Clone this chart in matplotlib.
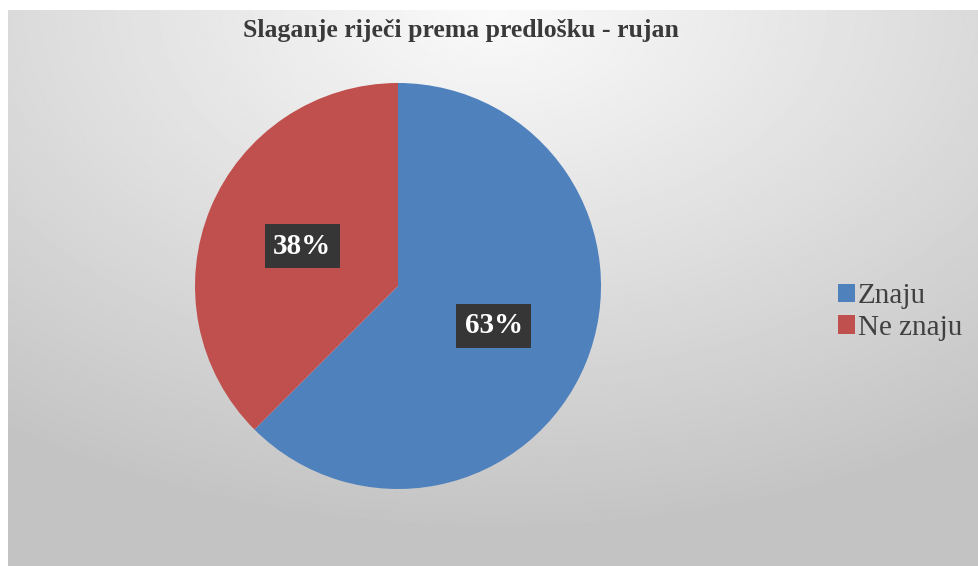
# Pie chart: Slaganje riječi prema predlošku - rujan
import numpy as np
from matplotlib import pyplot as plt
from matplotlib.patches import Patch

labels = ['Znaju', 'Ne znaju']
values = [62.5, 37.5]
colors = ['#4F81BD', '#C0504D']
title = 'Slaganje riječi prema predlošku - rujan'

plt.rcParams['font.family'] = ['Liberation Serif', 'DejaVu Serif']

W, H = 979, 566
fig = plt.figure(figsize=(W / 100, H / 100), dpi=100)
fig.patch.set_facecolor('white')

# gray gradient background of the chart area
bg = fig.add_axes([8 / W, 0, (W - 8) / W, (H - 10) / H])
yy, xx = np.mgrid[0:1:300j, 0:1:500j]
d = np.sqrt(((xx - 0.5) * 1.1) ** 2 + (yy * 1.0) ** 2)
shade = np.clip(250 - 58 * d, 195, 250) / 255
bg.imshow(shade, cmap='gray', vmin=0, vmax=1, aspect='auto',
          extent=[0, 1, 1, 0], interpolation='bilinear')
bg.set_axis_off()

# pie
cx, cy, r = 398, H - 286, 203
ax = fig.add_axes([(cx - r) / W, (cy - r) / H, 2 * r / W, 2 * r / H])
wedges, texts, autotexts = ax.pie(
    values, colors=colors, startangle=90, counterclock=False,
    autopct=lambda p: f'{int(p + 0.5)}%', pctdistance=0.51,
    wedgeprops=dict(linewidth=0))
for t in autotexts:
    t.set_color('white')
    t.set_fontsize(21)
    t.set_fontweight('bold')
    t.set_bbox(dict(facecolor='#363636', edgecolor='none', pad=6))
ax.set_xlim(-1, 1)
ax.set_ylim(-1, 1)
ax.set_aspect('equal')
ax.set_axis_off()

fig.text(461 / W, 1 - 31 / H, title, ha='center', va='center',
         fontsize=18.5, fontweight='bold', color='#3a3a3a')

handles = [Patch(facecolor=c, edgecolor='none') for c in colors]
fig.legend(handles, labels, loc='center left',
           bbox_to_anchor=(823 / W, 1 - 312 / H), frameon=False,
           fontsize=21, handlelength=0.6, handleheight=0.6,
           handletextpad=0.1, labelspacing=0.2, borderpad=0,
           labelcolor='#404040')

fig.savefig('out.png', dpi=100)
